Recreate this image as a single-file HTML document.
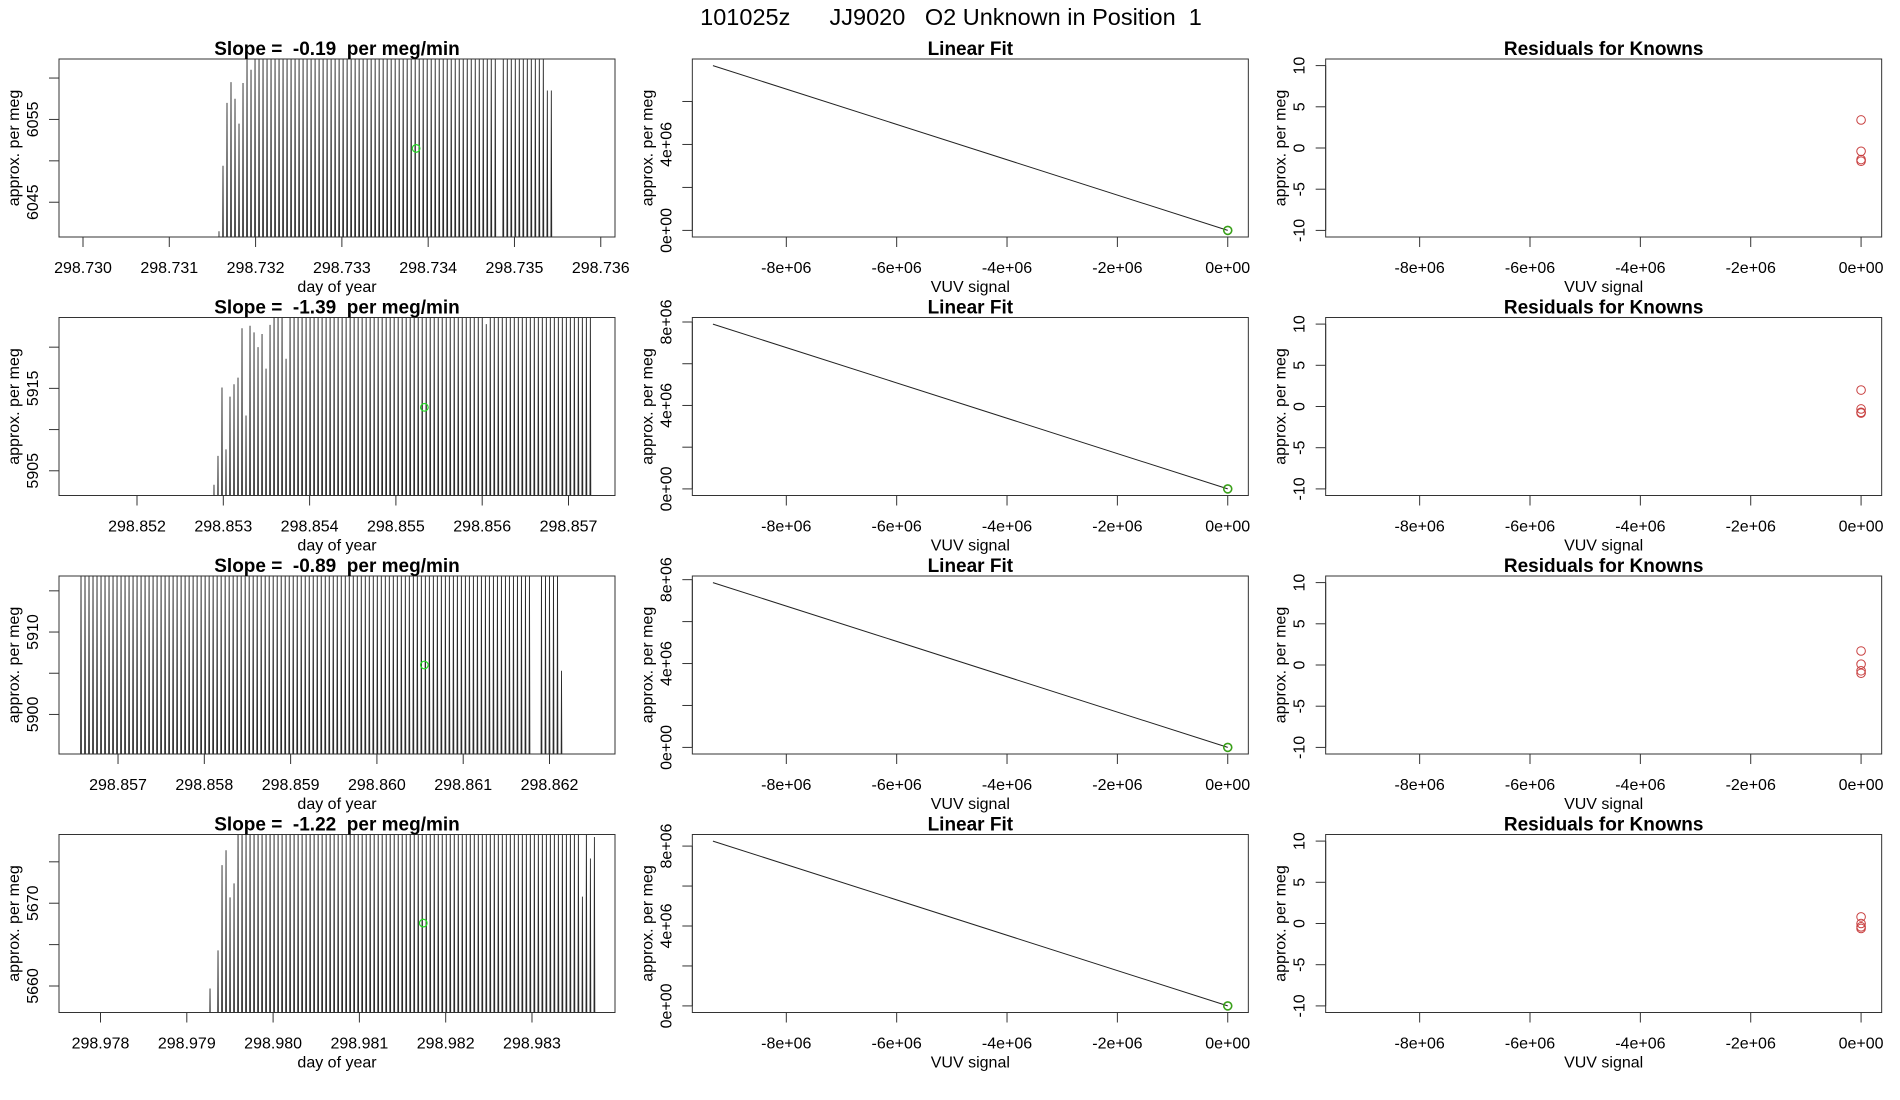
<!DOCTYPE html>
<html><head><meta charset="utf-8"><style>
html,body{margin:0;padding:0;background:#fff}
svg{display:block;font-family:"Liberation Sans",sans-serif}
</style></head><body>
<svg id="root" width="1900" height="1100" viewBox="0 0 1900 1100">
<text x="951" y="25" font-size="23.5" text-anchor="middle" style="white-space:pre" xml:space="preserve">101025z      JJ9020   O2 Unknown in Position  1</text>
</svg>
<script>
// ---------- data ----------
const slopeLabels = ["-0.19", "-1.39", "-0.89", "-1.22"];
const timeStart = [298.731576, 298.852892, 298.856571, 298.979269];
const timeStep = [0.0000464, 0.0000464, 0.0000464, 0.0000464];
const xTicks1 = [298.730, 298.731, 298.732, 298.733, 298.734, 298.735, 298.736];
const xTicks2 = [298.852, 298.853, 298.854, 298.855, 298.856, 298.857];
const xTicks3 = [298.857, 298.858, 298.859, 298.860, 298.861, 298.862];
const xTicks4 = [298.978, 298.979, 298.980, 298.981, 298.982, 298.983];
const xLim = [[298.729722, 298.736165], [298.851096, 298.857539], [298.856316, 298.862759], [298.977519, 298.983962]];
const yLim = [[6040.8, 6062.3], [5902.0, 5923.6], [5895.2, 5916.8], [5656.8, 5678.3]];
const yTicks1 = [6045, 6050, 6055, 6060];
const yTicks2 = [5905, 5910, 5915, 5920];
const yTicks3 = [5900, 5905, 5910, 5915];
const yTicks4 = [5660, 5665, 5670, 5675];
const yTickLabels1 = ["6045", "", "6055", ""];
const yTickLabels2 = ["5905", "", "5915", ""];
const yTickLabels3 = ["5900", "", "5910", ""];
const yTickLabels4 = ["5660", "", "5670", ""];
const peaks1 = [6041.5,6049.4,6057,6059.5,6057.5,6054.5,6059.4,6063,6061,
6063,6063,6063,6063,6063,6063,6063,6063,6063,6063,
6063,6063,6063,6063,6063,6063,6063,6063,6063,6063,
6063,6063,6063,6063,6063,6063,6063,6063,6063,6063,
6063,6063,6063,6063,6063,6063,6063,6063,6063,6063,
6063,6063,6063,6063,6063,6063,6063,6063,6063,6063,
6063,6063,6063,6063,6063,6063,6063,6063,6063,6063,
6063,6040,6063,6063,6063,6063,6063,6063,6063,6063,6063,6063,6063,6058.5,6058.5];
const peaks2 = [5903.3,5906.8,5915.1,5907.6,5914,5915.5,5916.3,5922.3,5911.7,5922.6,5921.8,5920,5921.6,5917.4,5922.7,
5925,5925,5925,5918.6,
5925,5925,5925,5925,5925,5925,5925,5925,5925,5925,
5925,5925,5925,5925,5925,5925,5925,5925,5925,5925,
5925,5925,5925,5925,5925,5925,5925,5925,5925,5925,
5925,5925,5925,5925,5925,5925,5925,5925,5925,5925,
5925,5925,5925,5925,5925,5925,5925,5925,5925,
5922.8,
5925,5925,5925,5925,5925,5925,5925,5925,5925,5925,
5925,5925,5925,5925,5925,5925,5925,5925,5925,5925,
5925,5925,5925,5925,5925,5925];
const peaks3 = [5918,5918,5918,5918,5918,5918,5918,5918,5918,5918,
5918,5918,5918,5918,5918,5918,5918,5918,5918,5918,
5918,5918,5918,5918,5918,5918,5918,5918,5918,5918,
5918,5918,5918,5918,5918,5918,5918,5918,5918,5918,
5918,5918,5918,5918,5918,5918,5918,5918,5918,5918,
5918,5918,5918,5918,5918,5918,5918,5918,5918,5918,
5918,5918,5918,5918,5918,5918,5918,5918,5918,5918,
5918,5918,5918,5918,5918,5918,5918,5918,5918,5918,
5918,5918,5918,5918,5918,5918,5918,5918,5918,5918,
5918,5918,5918,5918,5918,5918,5918,5918,5918,5918,
5918,5918,5918,5918,5918,5918,5918,5918,5918,5918,
5918,5918,5918,5890,5890,5918,5918,5918,5918,5918,5905.3];
const peaks4 = [5659.7,5650,5664.3,5674.6,5676.4,5670.7,5672.4,
5680,5680,5680,5680,5680,5680,5680,5680,5680,5680,
5680,5680,5680,5680,5680,5680,5680,5680,5680,5680,
5680,5680,5680,5680,5680,5680,5680,5680,5680,5680,
5680,5680,5680,5680,5680,5680,5680,5680,5680,5680,
5680,5680,5680,5680,5680,5680,5680,5680,5680,5680,
5680,5680,5680,5680,5680,5680,5680,5680,5680,5680,
5680,5680,5680,5680,5680,5680,5680,5680,5680,5680,
5680,5680,5680,5680,5680,5680,5680,5680,5680,5680,
5680,5680,5680,5680,5680,5680,
5670.8,5680,5675.4,5678];
const meanT = [298.73386, 298.85533, 298.86055, 298.98174];
const meanV = [6051.5, 5912.7, 5906.0, 5667.6];
// linear fit
const fitX = [-9.33e6, 0];
const fitY1 = [7.67e6, 0];
const fitY2 = [7.90e6, 0];
const fitY3 = [7.86e6, 0];
const fitY4 = [8.25e6, 0];
const vuvTicks = [-8e6, -6e6, -4e6, -2e6, 0];
const vuvTickLabels = ["-8e+06", "-6e+06", "-4e+06", "-2e+06", "0e+00"];
const fitYTicks1 = [0, 2e6, 4e6, 6e6];
const fitYTicks = [0, 2e6, 4e6, 6e6, 8e6];
const fitYTickLabels1 = ["0e+00", "", "4e+06", ""];
const fitYTickLabels = ["0e+00", "", "4e+06", "", "8e+06"];
// residuals
const residX = [0, 0, 0, 0];
const resid1 = [3.4, -0.4, -1.4, -1.6];
const resid2 = [2.0, -0.3, -0.8, -0.7];
const resid3 = [1.7, 0.1, -0.7, -1.0];
const resid4 = [0.8, 0.0, -0.4, -0.6];
const residTicks = [-10, -5, 0, 5, 10];
const residLim = [-10.8, 10.8];

// ---------- drawing ----------
const NS = "http://www.w3.org/2000/svg";
const root = document.getElementById("root");
function mk(tag, attrs, parent) {
  const e = document.createElementNS(NS, tag);
  for (const k in attrs) e.setAttribute(k, attrs[k]);
  (parent || root).appendChild(e);
  return e;
}
const colW = 1900 / 3;
const boxTop = [59, 317.5, 576, 834.5];
const boxH = 178;
function scale(d0, d1, r0, r1) { return v => r0 + (v - d0) / (d1 - d0) * (r1 - r0); }
function pad(lo, hi) { const r = hi - lo; return [lo - 0.04 * r, hi + 0.04 * r]; }

function frame(g, L, T, R, B, title, xlab, ylab, xt, xtl, X, yt, ytl, Y) {
  const box = mk("rect", {x: L, y: T, width: R - L, height: B - T, fill: "none", stroke: "#333", "stroke-width": 1}, g);
  
  
  const t = mk("text", {x: (L + R) / 2, y: T - 4, "font-size": 19, "font-weight": "bold", "text-anchor": "middle"}, g);
  
  
  t.setAttribute("xml:space", "preserve"); t.style.whiteSpace = "pre";
  t.textContent = title;
  const xa = mk("g", {}, g);
  
  
  xt.forEach((v, i) => {
    const x = X(v);
    mk("line", {x1: x, x2: x, y1: B, y2: B + 10, stroke: "#333"}, xa);
    const tl = mk("text", {x: x, y: B + 36, "font-size": 16, "text-anchor": "middle"}, xa);
    
    
    tl.textContent = xtl[i];
  });
  mk("line", {x1: X(xt[0]), x2: X(xt[xt.length - 1]), y1: B, y2: B, stroke: "#333"}, xa);
  const xl = mk("text", {x: (L + R) / 2, y: B + 55, "font-size": 16, "text-anchor": "middle"}, g);
  
  
  xl.textContent = xlab;
  const ya = mk("g", {}, g);
  
  
  yt.forEach((v, i) => {
    const y = Y(v);
    mk("line", {x1: L - 10, x2: L, y1: y, y2: y, stroke: "#333"}, ya);
    if (ytl[i]) {
      const tl = mk("text", {x: 0, y: 0, "font-size": 16, "text-anchor": "middle", transform: `translate(${L - 21},${y}) rotate(-90)`}, ya);
      
      
      tl.textContent = ytl[i];
    }
  });
  mk("line", {x1: L, x2: L, y1: Y(yt[0]), y2: Y(yt[yt.length - 1]), stroke: "#333"}, ya);
  const yl = mk("text", {x: 0, y: 0, "font-size": 16, "text-anchor": "middle", transform: `translate(${L - 40},${(T + B) / 2}) rotate(-90)`}, g);
  
  
  yl.textContent = ylab;
}

const xTicksAll = [xTicks1, xTicks2, xTicks3, xTicks4];
const yTicksAll = [yTicks1, yTicks2, yTicks3, yTicks4];
const yTickLabelsAll = [yTickLabels1, yTickLabels2, yTickLabels3, yTickLabels4];
const peaksAll = [peaks1, peaks2, peaks3, peaks4];
const fitYAll = [fitY1, fitY2, fitY3, fitY4];
const residAll = [resid1, resid2, resid3, resid4];

for (let r = 0; r < 4; r++) {
  const T = boxTop[r], B = T + boxH;
  // ---- col 1: time series ----
  {
    const L = 59, R = 615;
    const g = mk("g", {});
    
    
    const X = scale(xLim[r][0], xLim[r][1], L, R);
    const Y = scale(yLim[r][0], yLim[r][1], B, T);
    const cp = mk("clipPath", {id: "c1_" + r}, g);
    mk("rect", {x: L, y: T, width: R - L, height: B - T}, cp);
    const lo = yLim[r][0] - 5;
    let d = "";
    peaksAll[r].forEach((v, i) => {
      const t = timeStart[r] + i * timeStep[r];
      const x = X(t);
      d += `M${(x - 0.5).toFixed(2)},${Y(lo).toFixed(2)}L${x.toFixed(2)},${Y(v).toFixed(2)}L${(x + 0.5).toFixed(2)},${Y(lo).toFixed(2)}`;
    });
    const p = mk("path", {d: d, fill: "none", stroke: "#2a2a2a", "stroke-width": 0.9, "clip-path": `url(#c1_${r})`}, g);
    
    
    const c = mk("circle", {cx: X(meanT[r]), cy: Y(meanV[r]), r: 3.8, fill: "none", stroke: "#22dd22", "stroke-width": 1.2}, g);
    
    
    const xt = xTicksAll[r];
    frame(g, L, T, R, B, "Slope =  " + slopeLabels[r] + "  per meg/min", "day of year", "approx. per meg",
      xt, xt.map(v => v.toFixed(3)), X, yTicksAll[r], yTickLabelsAll[r], Y);
  }
  // ---- col 2: linear fit ----
  {
    const L = 59 + colW, R = 615 + colW;
    const g = mk("g", {});
    
    
    const xl = pad(Math.min(...fitX), Math.max(...fitX));
    const fy = fitYAll[r];
    const yl = pad(Math.min(...fy), Math.max(...fy));
    const X = scale(xl[0], xl[1], L, R);
    const Y = scale(yl[0], yl[1], B, T);
    const ln = mk("line", {x1: X(fitX[0]), y1: Y(fy[0]), x2: X(fitX[1]), y2: Y(fy[1]), stroke: "#222", "stroke-width": 1}, g);
    
    
    const c = mk("circle", {cx: X(fitX[1]), cy: Y(fy[1]), r: 4, fill: "none", stroke: "#3aa01a", "stroke-width": 1.6}, g);
    
    
    const yt = r === 0 ? fitYTicks1 : fitYTicks;
    const ytl = r === 0 ? fitYTickLabels1 : fitYTickLabels;
    frame(g, L, T, R, B, "Linear Fit", "VUV signal", "approx. per meg", vuvTicks, vuvTickLabels, X, yt, ytl, Y);
  }
  // ---- col 3: residuals ----
  {
    const L = 59 + 2 * colW, R = 615 + 2 * colW;
    const g = mk("g", {});
    
    
    const xl = pad(Math.min(...fitX), Math.max(...fitX));
    const X = scale(xl[0], xl[1], L, R);
    const Y = scale(residLim[0], residLim[1], B, T);
    residAll[r].forEach((v, i) => {
      const c = mk("circle", {cx: X(residX[i]), cy: Y(v), r: 4.3, fill: "none", stroke: "#c84040", "stroke-width": 1}, g);
      
      
    });
    frame(g, L, T, R, B, "Residuals for Knowns", "VUV signal", "approx. per meg", vuvTicks, vuvTickLabels, X,
      residTicks, residTicks.map(String), Y);
  }
}
</script>
</body></html>
